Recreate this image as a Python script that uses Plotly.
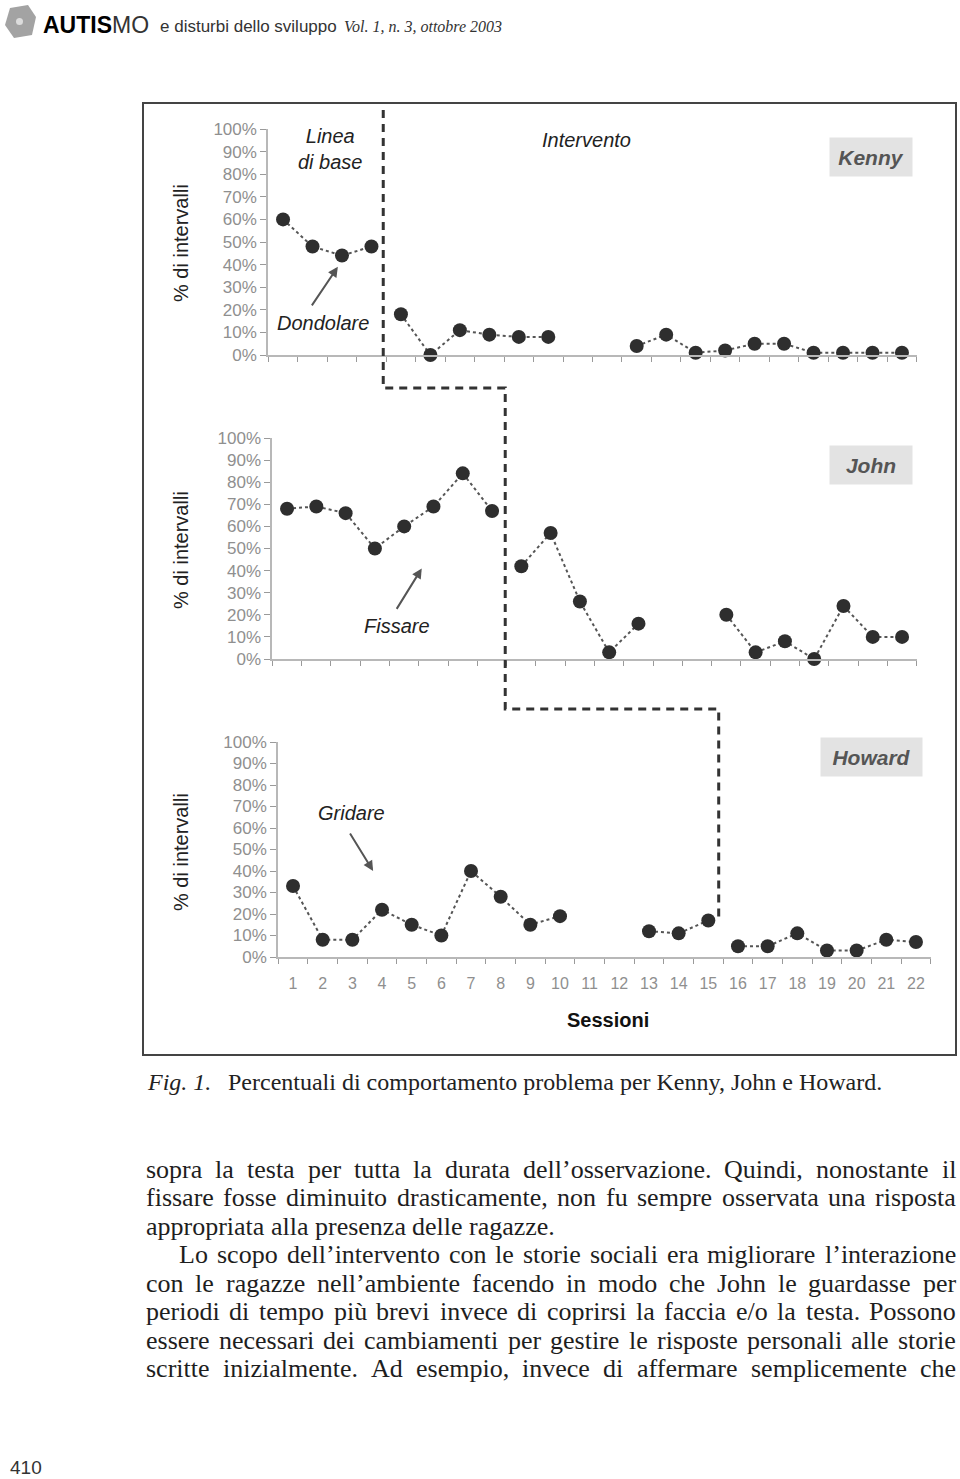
import plotly.graph_objects as go

W, H = 960, 1479

# ---- data ----
sessions = list(range(1, 23))
kenny = [60, 48, 44, 48, 18, 0, 11, 9, 8, 8, None, None, 4, 9, 1, 2, 5, 5, 1, 1, 1, 1]
john = [68, 69, 66, 50, 60, 69, 84, 67, 42, 57, 26, 3, 16, None, None, 20, 3, 8, 0, 24, 10, 10]
howard = [33, 8, 8, 22, 15, 10, 40, 28, 15, 19, None, None, 12, 11, 17, 5, 5, 11, 3, 3, 8, 7]
names = ["Kenny", "John", "Howard"]
behaviours = ["Dondolare", "Fissare", "Gridare"]
baseline_end = [4, 8, 15]          # last baseline session per child
phase_x = [4.4, 8.45, 15.35]       # where the phase-change line is drawn
y_ticks = list(range(0, 101, 10))
y_ticktext = [f"{v}%" for v in y_ticks]

series = [kenny, john, howard]

# panel frames in page pixels (left, right, y of 0%, y of 100%)
panels = [
    dict(x0=268.3, x1=916.7, y0=355, y1=129),
    dict(x0=272.4, x1=916.7, y0=659, y1=438),
    dict(x0=278.2, x1=930.8, y0=957, y1=742),
]


def PX(x):
    return x / W


def PY(y):
    return 1 - y / H


def data_to_px(i, x):
    p = panels[i]
    return p["x0"] + (x - 0.5) / 22 * (p["x1"] - p["x0"])


fig = go.Figure()

axis_col = "#b8b8b8"
tick_font = dict(family="Liberation Sans", size=17, color="#8f8f8f")

for i, vals in enumerate(series):
    sfx = "" if i == 0 else str(i + 1)
    p = panels[i]
    b = baseline_end[i]
    for xs, ys in [(sessions[:b], vals[:b]), (sessions[b:], vals[b:])]:
        fig.add_trace(go.Scatter(
            x=xs, y=ys, mode="lines+markers",
            xaxis="x" + sfx, yaxis="y" + sfx,
            line=dict(color="#555555", width=2, dash="dot"),
            marker=dict(size=14, color="#2e2e2e"),
            connectgaps=False, cliponaxis=False, showlegend=False,
            hoverinfo="skip",
        ))
    fig.layout["xaxis" + sfx] = dict(
        domain=[PX(p["x0"]), PX(p["x1"])], range=[0.5, 22.5],
        anchor="y" + sfx, showline=True, linecolor=axis_col, linewidth=2,
        showgrid=False, zeroline=False, automargin=False,
        tickmode="array", tickvals=sessions, ticktext=[str(s) for s in sessions],
        ticks="", showticklabels=(i == 2), ticklabelstandoff=11,
        tickfont=dict(family="Liberation Sans", size=16, color="#8f8f8f"),
        minor=dict(tickmode="array", tickvals=[s - 0.5 for s in sessions] + [22.5],
                   ticks="outside", ticklen=5, tickcolor="#9a9a9a", tickwidth=1,
                   showgrid=False),
        fixedrange=True,
    )
    fig.layout["yaxis" + sfx] = dict(
        domain=[PY(p["y0"]), PY(p["y1"])], range=[0, 100],
        anchor="x" + sfx, showline=True, linecolor=axis_col, linewidth=2,
        showgrid=False, zeroline=False, automargin=False,
        tickmode="array", tickvals=y_ticks, ticktext=y_ticktext,
        ticks="outside", ticklen=6, tickcolor="#9a9a9a",
        tickfont=tick_font, fixedrange=True,
    )

# ---- phase-change staircase ----
step_y = [110, 388, 709, 918]
pts = []
for i in range(3):
    xp = data_to_px(i, phase_x[i])
    pts.append((xp, step_y[i]))
    pts.append((xp, step_y[i + 1]))
path = "M " + " L ".join(f"{PX(x):.5f},{PY(y):.5f}" for x, y in pts)

shapes = [
    dict(type="path", xref="paper", yref="paper", path=path,
         line=dict(color="#333333", width=3, dash="8px,6px")),
    # frame around the figure
    dict(type="rect", xref="paper", yref="paper",
         x0=PX(143), x1=PX(956), y0=PY(1055), y1=PY(103),
         line=dict(color="#444444", width=2)),
    # journal logo
    dict(type="path", xref="paper", yref="paper",
         path="M " + " L ".join(f"{PX(x):.5f},{PY(y):.5f}" for x, y in
                                [(10, 8), (28, 5), (36, 17), (32, 35), (14, 38), (5, 25)]) + " Z",
         fillcolor="#a3a3a3", line=dict(width=0)),
    dict(type="circle", xref="paper", yref="paper",
         x0=PX(16), x1=PX(23), y0=PY(25), y1=PY(18),
         fillcolor="#dcdcdc", line=dict(width=0)),
]

ann = []


def text(t, x, y, size=20, color="#222222", family="Liberation Sans",
         xanchor="center", **kw):
    ann.append(dict(text=t, x=PX(x), y=PY(y), xref="paper", yref="paper",
                    showarrow=False, xanchor=xanchor, yanchor="middle",
                    font=dict(size=size, color=color, family=family), **kw))


# axis titles
for yc in [243, 550, 852]:
    text("% di intervalli", 181, yc, size=20, color="#222222", textangle=-90)

# phase labels
text("<i>Linea<br>di base</i>", 330, 149, size=20)
text("<i>Intervento</i>", 586, 140, size=20)

# behaviour labels with arrows
text("<i>Dondolare</i>", 323, 323, size=20)
text("<i>Fissare</i>", 397, 626, size=20)
text("<i>Gridare</i>", 351, 813, size=20)
arrows = [(2.86, 39, -27, 40), (5.6, 41, -26, 42), (3.7, 40, -24, -39)]
for i, (hx, hy, ax, ay) in enumerate(arrows):
    sfx = "" if i == 0 else str(i + 1)
    ann.append(dict(text="", x=hx, y=hy, xref="x" + sfx, yref="y" + sfx,
                    showarrow=True, arrowhead=2, arrowsize=1, arrowwidth=2,
                    arrowcolor="#555555", ax=ax, ay=ay, standoff=0))

# name boxes
for name, (xc, yc, bw) in zip(names, [(871, 157, 82), (871, 465, 82), (871, 757, 101)]):
    text(f"<b><i>{name}</i></b>", xc, yc, size=21, color="#555555",
         bgcolor="#e3e3e3", width=bw, height=38, borderpad=0)

text("<b>Sessioni</b>", 608, 1020, size=20, color="#111111")

# header
text("<b>AUTIS</b><span style='color:#333333'>MO</span>", 41, 25, size=23,
     color="#000000", xanchor="left")
text("e disturbi dello sviluppo", 158, 27, size=17, color="#333333", xanchor="left")
text("<i>Vol. 1, n. 3, ottobre 2003</i>", 342, 27, size=16, color="#333333",
     family="Liberation Serif", xanchor="left")

# caption
text("<i>Fig. 1.</i>", 145, 1082, size=24, color="#222222",
     family="Liberation Serif", xanchor="left")
text("Percentuali di comportamento problema per Kenny, John e Howard.", 226, 1082,
     size=24, color="#222222", family="Liberation Serif", xanchor="left")

# page number
text("410", 8, 1467, size=19, color="#333333", family="Liberation Sans",
     xanchor="left")

# ---- body text, justified word by word (Times metrics = Liberation Serif) ----
TW = dict(a=444, b=500, c=444, d=500, e=444, f=333, g=500, h=500, i=278, j=278,
          k=500, l=278, m=778, n=500, o=500, p=500, q=500, r=333, s=389, t=278,
          u=500, v=500, w=722, x=500, y=500, z=444,
          A=722, B=667, C=667, D=722, E=611, F=556, G=722, H=722, I=333, J=389,
          K=722, L=611, M=889, N=722, O=722, P=556, Q=722, R=667, S=556, T=611,
          U=722, V=722, W=944, X=722, Y=722, Z=611)
TW.update({".": 250, ",": 250, "’": 333, "/": 278, "ù": 500, "à": 444,
           "è": 444, "é": 444, " ": 250})

body_lines = [
    "sopra la testa per tutta la durata dell’osservazione. Quindi, nonostante il",
    "fissare fosse diminuito drasticamente, non fu sempre osservata una risposta",
    "appropriata alla presenza delle ragazze.",
    "Lo scopo dell’intervento con le storie sociali era migliorare l’interazione",
    "con le ragazze nell’ambiente facendo in modo che John le guardasse per",
    "periodi di tempo più brevi invece di coprirsi la faccia e/o la testa. Possono",
    "essere necessari dei cambiamenti per gestire le risposte personali alle storie",
    "scritte inizialmente. Ad esempio, invece di affermare semplicemente che",
]
justified = [True, True, False, True, True, True, True, True]
indent = [0, 0, 0, 33, 0, 0, 0, 0]
body_size = 26
left, right = 145, 955
first_base, lead = 1177, 28.5


def word_w(wd):
    return sum(TW.get(c, 500) for c in wd) * body_size / 1000


for k, line in enumerate(body_lines):
    words = line.split(" ")
    x0 = left + indent[k]
    base = first_base + k * lead
    widths = [word_w(wd) for wd in words]
    if justified[k]:
        gap = (right - x0 - sum(widths)) / (len(words) - 1)
    else:
        gap = TW[" "] * body_size / 1000
    x = x0
    for wd, ww in zip(words, widths):
        text(wd, x, base - 8, size=body_size, color="#1e1e1e",
             family="Liberation Serif", xanchor="left", borderpad=0)
        x += ww + gap

fig.update_layout(
    width=W, height=H, margin=dict(l=0, r=0, t=0, b=0),
    paper_bgcolor="white", plot_bgcolor="white",
    shapes=shapes, annotations=ann, showlegend=False,
)

# the page's default body margin would push the figure past the window
fig.write_html("out.html", config=dict(displayModeBar=False),
               post_script="document.body.style.margin='0px';")
